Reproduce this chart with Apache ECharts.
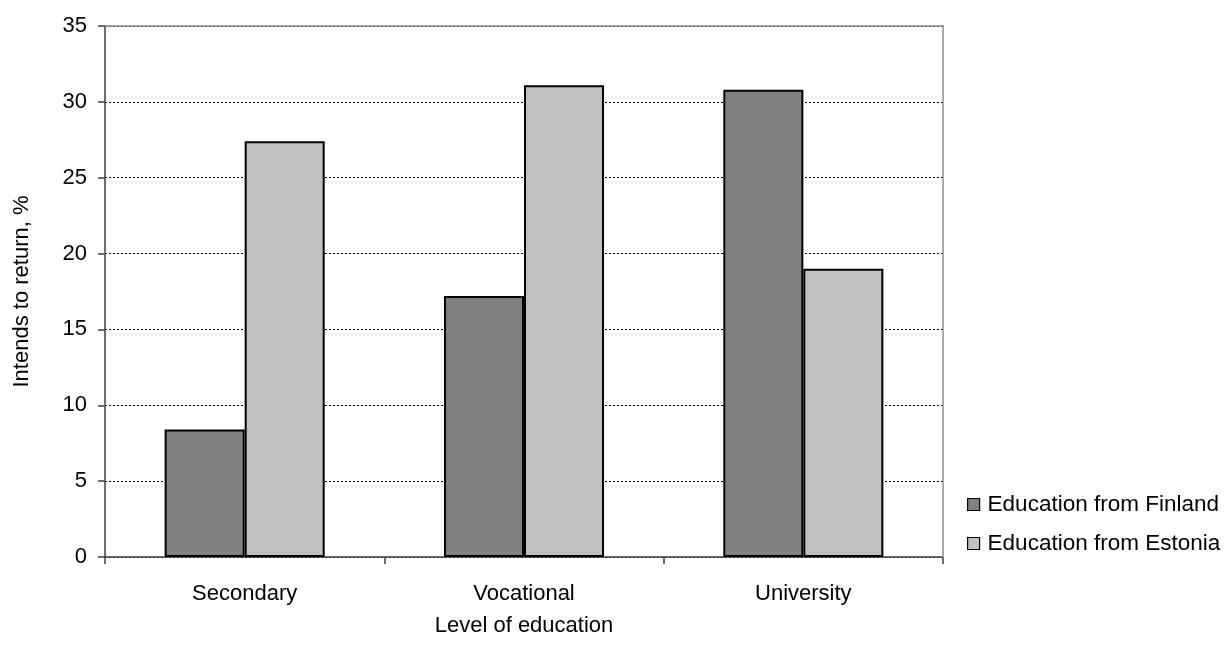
<!DOCTYPE html>
<html>
<head>
<meta charset="utf-8">
<script src="https://cdn.jsdelivr.net/npm/echarts@6/dist/echarts.min.js"></script>
<style>
html,body{margin:0;padding:0;background:#fff;}
#c{width:1231px;height:664px;}
</style>
</head>
<body>
<div id="c"></div>
<script>
const categories = ['Secondary', 'Vocational', 'University'];
const finland = [8.4, 17.2, 30.8];
const estonia = [27.4, 31.1, 19.0];
const seriesNames = ['Education from Finland', 'Education from Estonia'];

const font = '"Liberation Sans", Arial, sans-serif';
const chart = echarts.init(document.getElementById('c'), null, {renderer: 'canvas'});
chart.setOption({
  animation: false,
  backgroundColor: '#fff',
  textStyle: {fontFamily: font, color: '#000'},
  grid: {left: 105, right: 288, top: 26, bottom: 107, show: false, containLabel: false},
  legend: {
    orient: 'vertical',
    left: 962,
    top: 488,
    itemWidth: 12,
    itemHeight: 12,
    itemGap: 16,
    icon: 'rect',
    textStyle: {fontFamily: font, fontSize: 22.5, color: '#000', lineHeight: 22, padding: [0, 0, 0, 3]},
    itemStyle: {borderColor: '#000', borderWidth: 1.2},
    data: seriesNames
  },
  xAxis: [{
    type: 'category',
    data: categories,
    name: 'Level of education',
    nameLocation: 'middle',
    nameGap: 58,
    nameTextStyle: {fontFamily: font, fontSize: 22, color: '#000'},
    axisLine: {show: true, lineStyle: {color: '#404040', width: 1.5}},
    axisTick: {show: true, length: 7, lineStyle: {color: '#404040', width: 1.5}},
    axisLabel: {fontFamily: font, fontSize: 22, color: '#000', margin: 26},
    splitLine: {show: false}
  }, {
    type: 'category',
    data: categories,
    position: 'top',
    z: 5,
    axisLine: {show: true, onZero: false, lineStyle: {color: '#8c8c8c', width: 1.5}},
    axisTick: {show: false},
    axisLabel: {show: false},
    splitLine: {show: false}
  }],
  yAxis: [{
    type: 'value',
    min: 0,
    max: 35,
    interval: 5,
    name: 'Intends to return, %',
    nameLocation: 'middle',
    nameGap: 72,
    nameRotate: 90,
    nameTextStyle: {fontFamily: font, fontSize: 22, color: '#000'},
    axisLine: {show: true, lineStyle: {color: '#404040', width: 1.5}},
    axisTick: {show: true, length: 7, lineStyle: {color: '#404040', width: 1.5}},
    axisLabel: {fontFamily: font, fontSize: 22, color: '#000', margin: 18},
    splitLine: {show: true, lineStyle: {color: '#000', width: 1, type: [2, 2]}}
  }, {
    type: 'value',
    min: 0,
    max: 35,
    interval: 5,
    position: 'right',
    z: 5,
    axisLine: {show: true, onZero: false, lineStyle: {color: '#8c8c8c', width: 1.5}},
    axisTick: {show: false},
    axisLabel: {show: false},
    splitLine: {show: false}
  }],
  series: [
    {
      name: seriesNames[0],
      type: 'bar',
      data: finland,
      barGap: '0%',
      barCategoryGap: '42.7%',
      itemStyle: {color: '#808080', borderColor: '#000', borderWidth: 2}
    },
    {
      name: seriesNames[1],
      type: 'bar',
      data: estonia,
      barGap: '0%',
      barCategoryGap: '42.7%',
      itemStyle: {color: '#c0c0c0', borderColor: '#000', borderWidth: 2}
    }
  ]
});
</script>
</body>
</html>
